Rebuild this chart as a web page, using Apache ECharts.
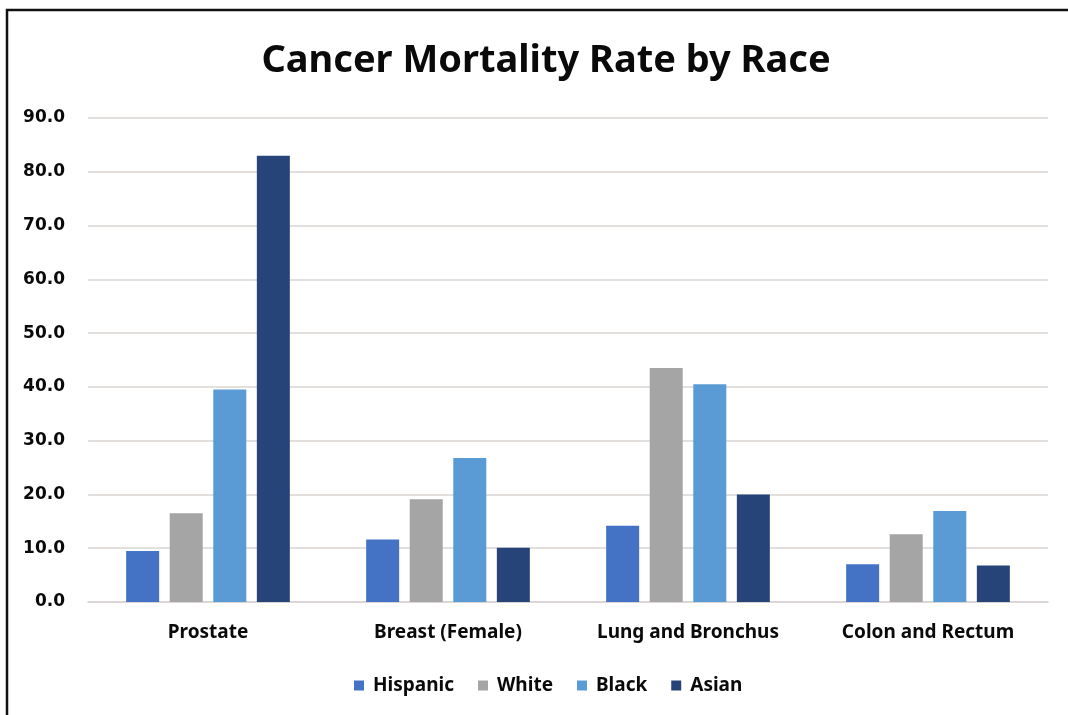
<!DOCTYPE html>
<html>
<head>
<meta charset="utf-8">
<script src="https://cdn.jsdelivr.net/npm/echarts@6/dist/echarts.min.js"></script>
<style>
html,body{margin:0;padding:0;background:#fff;}
#chart{width:1068px;height:715px;}
</style>
</head>
<body>
<div id="chart"></div>
<script>
const categories = ['Prostate', 'Breast (Female)', 'Lung and Bronchus', 'Colon and Rectum'];
const seriesNames = ['Hispanic', 'White', 'Black', 'Asian'];
const hispanic = [9.5, 11.6, 14.2, 7.0];
const white = [16.5, 19.1, 43.5, 12.6];
const black = [39.5, 26.8, 40.5, 16.9];
const asian = [83.0, 10.1, 20.0, 6.8];
const colors = ['#4472C4', '#A5A5A5', '#5B9BD5', '#264478'];
const seriesData = [hispanic, white, black, asian];

const chart = echarts.init(document.getElementById('chart'));
chart.setOption({
  backgroundColor: '#ffffff',
  animation: false,
  title: {
    text: 'Cancer Mortality Rate by Race',
    left: 541, textAlign: 'center', top: 37,
    textStyle: { fontFamily: 'Noto Sans', fontWeight: 'bold', fontSize: 38, color: '#0a0a0a' }
  },
  graphic: [{
    type: 'polyline',
    shape: { points: [[7, 715], [7, 10], [1068, 10]] },
    style: { stroke: '#111', lineWidth: 2.5, fill: null }
  }],
  legend: {
    data: seriesNames,
    left: 349, top: 671,
    icon: 'rect', itemWidth: 10, itemHeight: 10, itemGap: 24,
    textStyle: { fontFamily: 'Noto Sans', fontWeight: 'bold', fontSize: 19, color: '#0a0a0a', padding: [0, 0, 0, 4] }
  },
  grid: { left: 88, right: 20, top: 118, bottom: 113, containLabel: false },
  xAxis: {
    type: 'category',
    data: categories,
    axisLine: { show: true, lineStyle: { color: '#d9d4d2', width: 1.5 } },
    axisTick: { show: false },
    axisLabel: { margin: 21, fontFamily: 'Noto Sans', fontWeight: 'bold', fontSize: 19, color: '#0a0a0a' }
  },
  yAxis: {
    type: 'value', min: 0, max: 90, interval: 10,
    axisLine: { show: false }, axisTick: { show: false },
    splitLine: { lineStyle: { color: '#d9d4d2', width: 1.5 } },
    axisLabel: {
      margin: 23, fontFamily: 'DejaVu Sans', fontWeight: 'bold', fontSize: 17, color: '#0a0a0a',
      formatter: v => v.toFixed(1)
    }
  },
  series: seriesNames.map((n, i) => ({
    name: n, type: 'bar', data: seriesData[i],
    barWidth: 33, barGap: '32%',
    itemStyle: { color: colors[i] }
  }))
});
</script>
</body>
</html>
